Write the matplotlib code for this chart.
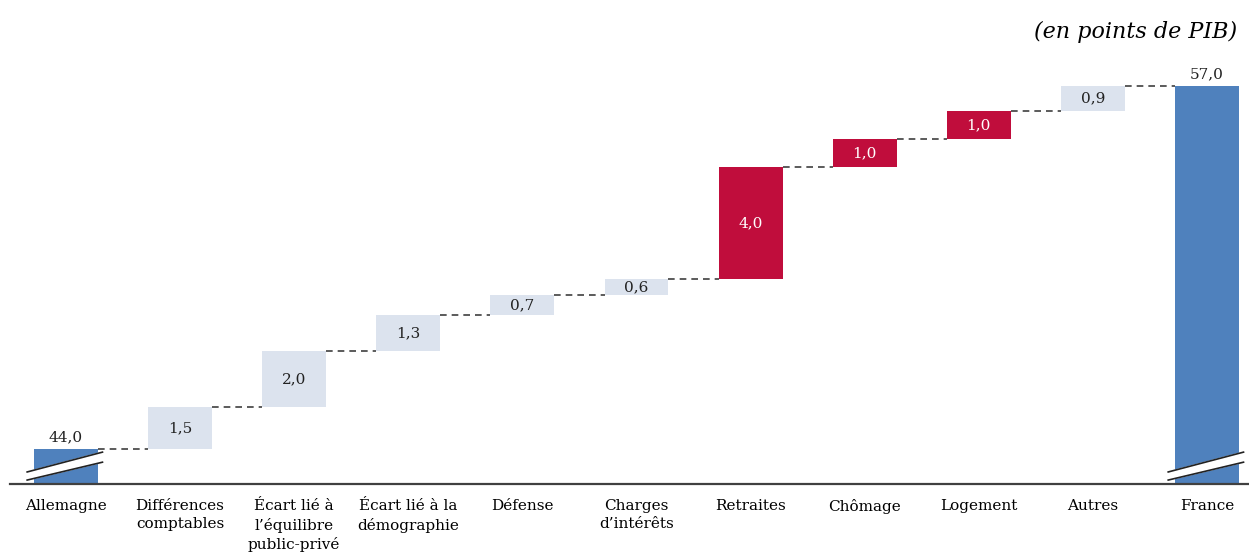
"""
Decomposition de l'ecart de depenses publiques Allemagne / France
(graphique en cascade, en points de PIB).
"""

import matplotlib.pyplot as plt
from matplotlib.patches import Polygon

# --- Donnees ---
categories = ["Allemagne", "Différences\ncomptables", "Écart lié à\nl’équilibre\npublic-privé",
              "Écart lié à la\ndémographie", "Défense", "Charges\nd’intérêts", "Retraites",
              "Chômage", "Logement", "Autres", "France"]
depart = 44.0
arrivee = 57.0
ecarts = [1.5, 2.0, 1.3, 0.7, 0.6, 4.0, 1.0, 1.0, 0.9]
# secteurs mis en evidence (rouge)
mis_en_avant = [False, False, False, False, False, True, True, True, False]

BLEU = "#4F81BD"
GRIS = "#DCE3EE"
ROUGE = "#C00D3C"
TRAIT = "#404040"

plt.rcParams["font.family"] = ["DejaVu Serif"]
TAILLE = 11

fig = plt.figure(figsize=(12.49, 5.54), dpi=100)
ax = fig.add_axes([0, 0.1264, 1, 0.8736])

largeur = 0.56
y_min = 42.75

def fmt(v):
    return f"{v:.1f}".replace(".", ",")

# barres totales (cassees en bas)
ax.bar(0, depart - y_min, bottom=y_min, width=largeur, color=BLEU)
ax.bar(len(categories) - 1, arrivee - y_min, bottom=y_min, width=largeur, color=BLEU)
ax.text(0, depart + 0.18, fmt(depart), ha="center", va="bottom",
        fontsize=TAILLE, color="#222222")
ax.text(len(categories) - 1, arrivee + 0.18, fmt(arrivee),
        ha="center", va="bottom", fontsize=TAILLE, color="#222222")

# barres intermediaires
cumul = depart
niveaux = [depart]
for i, (v, rouge) in enumerate(zip(ecarts, mis_en_avant), start=1):
    ax.bar(i, v, bottom=cumul, width=largeur, color=ROUGE if rouge else GRIS)
    ax.text(i, cumul + v / 2, fmt(v), ha="center", va="center",
            fontsize=TAILLE, color="white" if rouge else "#222222")
    cumul += v
    niveaux.append(cumul)

# traits pointilles entre les barres
for i, niv in enumerate(niveaux):
    ax.plot([i + largeur / 2, i + 1 - largeur / 2], [niv, niv], color=TRAIT,
            lw=1.2, dashes=(4, 3))

# symbole de rupture d'echelle
def rupture(xc):
    dx_g, dx_d = -0.34, 0.32
    bas = [(xc + dx_g, 42.89), (xc + dx_d, 43.53)]
    haut = [(xc + dx_g, 43.18), (xc + dx_d, 43.89)]
    ax.add_patch(Polygon(bas + haut[::-1], closed=True, color="white", zorder=3))
    for seg in (bas, haut):
        ax.plot([p[0] for p in seg], [p[1] for p in seg], color="#222222", lw=1.2, zorder=4)

rupture(0)
rupture(len(categories) - 1)

# axe horizontal
ax.axhline(y_min, xmin=10 / 1249, xmax=1, color=TRAIT, lw=1.6, clip_on=False)

ax.set_xlim(-0.578, 10.368)
ax.set_ylim(y_min, 60.08)
ax.set_xticks(range(len(categories)))
ax.set_xticklabels(categories, fontsize=TAILLE, linespacing=1.38, va="top")
ax.tick_params(axis="x", length=0, pad=11)
ax.set_yticks([])
for s in ax.spines.values():
    s.set_visible(False)

fig.text(1237 / 1249, 1 - 32 / 554, "(en points de PIB)", ha="right", va="center",
         fontsize=16, style="italic")

fig.savefig("out.png", dpi=100)
plt.close(fig)
